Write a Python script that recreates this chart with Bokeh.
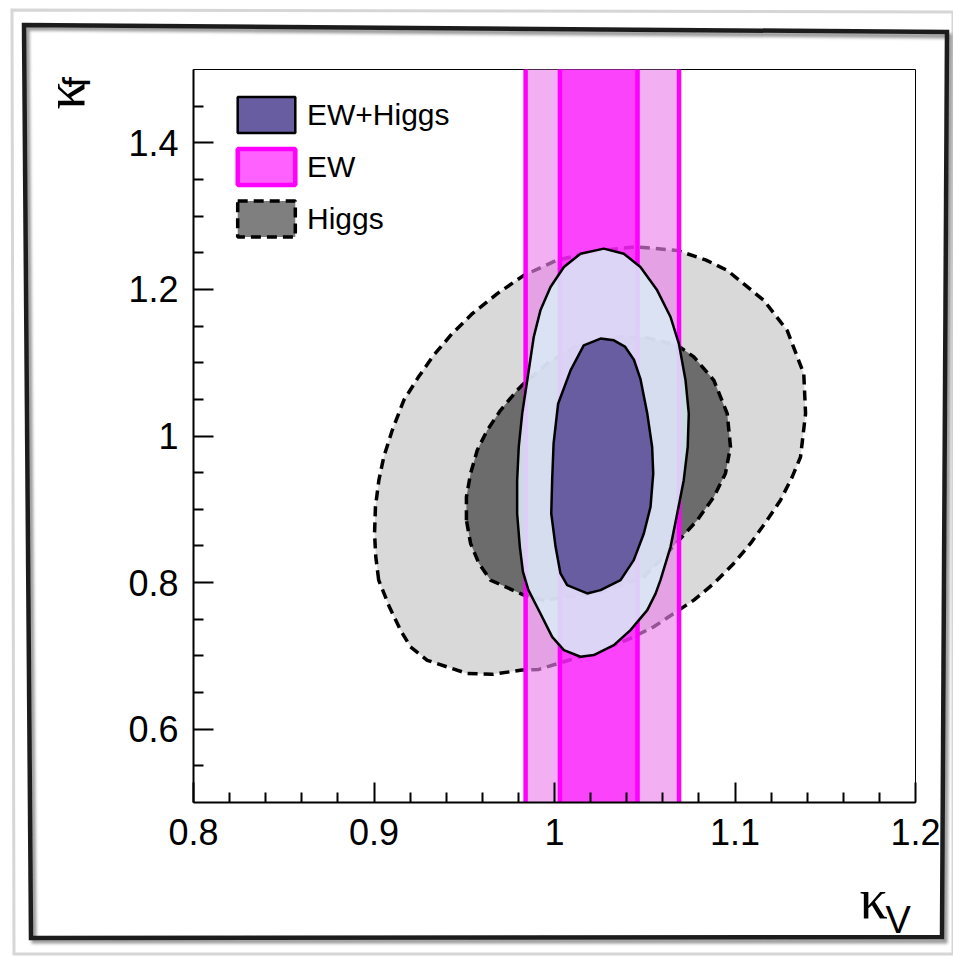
from urllib.parse import quote

from bokeh.plotting import figure
from bokeh.models import Range1d, FixedTicker, Legend, LegendItem, Label
from bokeh.embed import file_html
from bokeh.resources import INLINE

# ---- confidence regions in the (kappa_V, kappa_f) plane ----
# Higgs couplings fit, 95% CL contour
higgs95_kv = [0.9026, 0.9010, 0.9003, 0.9008, 0.9027, 0.9054, 0.9101, 0.9165, 0.9245, 0.9330,
              0.9430, 0.9545, 0.9683, 0.9830, 1.0015, 1.0255, 1.0450, 1.0680, 1.0840, 1.0957,
              1.1160, 1.1289, 1.1381, 1.1391, 1.1363, 1.1317, 1.1252, 1.1178, 1.1086, 1.0993,
              1.0883, 1.0772, 1.0661, 1.0550, 1.0421, 1.0250, 1.0052, 0.9913, 0.9821, 0.9655,
              0.9516, 0.9295, 0.9202, 0.9147, 0.9085]
higgs95_kf = [0.8034, 0.8351, 0.8670, 0.9033, 0.9397, 0.9714, 1.0078, 1.0487, 1.0800, 1.1100,
              1.1390, 1.1670, 1.1942, 1.2192, 1.2400, 1.2532, 1.2580, 1.2532, 1.2400, 1.2260,
              1.1850, 1.1440, 1.0850, 1.0306, 0.9714, 0.9442, 0.9124, 0.8852, 0.8534, 0.8261,
              0.7988, 0.7761, 0.7579, 0.7397, 0.7239, 0.7070, 0.6920, 0.6816, 0.6807, 0.6748,
              0.6760, 0.6940, 0.7124, 0.7350, 0.7670]
# Higgs couplings fit, 68% CL contour
higgs68_kv = [0.9512, 0.9512, 0.9535, 0.9572, 0.9627, 0.9701, 0.9793, 0.9830, 0.9960, 1.0126,
              1.0310, 1.0495, 1.0680, 1.0772, 1.0883, 1.0957, 1.0975, 1.0947, 1.0883, 1.0791,
              1.0707, 1.0587, 1.0495, 1.0360, 1.0218, 0.9940, 0.9830, 0.9645, 0.9581, 0.9535]
higgs68_kf = [0.8852, 0.9169, 0.9488, 0.9806, 1.0078, 1.0351, 1.0624, 1.0715, 1.0988, 1.1237,
              1.1350, 1.1350, 1.1240, 1.1080, 1.0760, 1.0306, 0.9850, 0.9488, 0.9169, 0.8852,
              0.8624, 0.8306, 0.8080, 0.7950, 0.7850, 0.7760, 0.7830, 0.8034, 0.8261, 0.8534]
# electroweak precision data: kappa_V intervals (independent of kappa_f)
ew95 = (0.984, 1.069)
ew68 = (1.003, 1.046)
# combined EW + Higgs fit, 95% CL contour
comb95_kv = [1.0273, 1.0384, 1.0476, 1.0569, 1.0643, 1.0689, 1.0726, 1.0744, 1.0738, 1.0716,
             1.0680, 1.0643, 1.0587, 1.0560, 1.0514, 1.0421, 1.0329, 1.0218, 1.0144, 1.0052,
             0.9987, 0.9922, 0.9855, 0.9825, 0.9808, 0.9793, 0.9793, 0.9802, 0.9821, 0.9849,
             0.9885, 0.9922, 0.9978, 1.0052, 1.0144]
comb95_kf = [1.2556, 1.2487, 1.2305, 1.1987, 1.1623, 1.1260, 1.0760, 1.0306, 0.9850, 0.9397,
             0.8943, 0.8488, 0.8034, 0.7850, 0.7624, 0.7352, 0.7147, 0.7011, 0.6988, 0.7079,
             0.7260, 0.7579, 0.7900, 0.8150, 0.8488, 0.8943, 0.9397, 0.9850, 1.0306, 1.0760,
             1.1350, 1.1714, 1.2032, 1.2305, 1.2487]
# combined EW + Higgs fit, 68% CL contour
comb68_kv = [1.0255, 1.0329, 1.0390, 1.0440, 1.0476, 1.0514, 1.0541, 1.0547, 1.0532, 1.0495,
             1.0439, 1.0366, 1.0255, 1.0181, 1.0070, 1.0033, 1.0006, 0.9982, 0.9987, 0.9995,
             1.0020, 1.0089, 1.0162]
comb68_kf = [1.1329, 1.1305, 1.1220, 1.1040, 1.0780, 1.0306, 0.9850, 0.9488, 0.9033, 0.8670,
             0.8306, 0.8034, 0.7897, 0.7852, 0.7965, 0.8125, 0.8488, 0.8943, 0.9397, 0.9900,
             1.0440, 1.0896, 1.1237]

# axes
kv_range = (0.8, 1.2)
kf_range = (0.5, 1.5)
x_ticks = [0.8, 0.9, 1.0, 1.1, 1.2]
x_tick_labels = ["0.8", "0.9", "1", "1.1", "1.2"]
x_minor = [0.82, 0.84, 0.86, 0.88, 0.92, 0.94, 0.96, 0.98, 1.02, 1.04, 1.06, 1.08,
           1.12, 1.14, 1.16, 1.18]
y_ticks = [0.6, 0.8, 1.0, 1.2, 1.4]
y_tick_labels = ["0.6", "0.8", "1", "1.2", "1.4"]
y_minor = [0.55, 0.65, 0.7, 0.75, 0.85, 0.9, 0.95, 1.05, 1.1, 1.15, 1.25, 1.3, 1.35, 1.45]

# ---- canvas layout (pixels) ----
W, H = 953, 957
FL, FR, FT, FB = 193, 915, 69, 802

# hand-framed page border, painted behind the (transparent) canvas border area
page_frame_svg = (
    "<svg xmlns='http://www.w3.org/2000/svg' width='953' height='957'>"
    "<defs><filter id='s'><feGaussianBlur stdDeviation='1.6'/></filter>"
    "<filter id='b'><feGaussianBlur stdDeviation='0.6'/></filter></defs>"
    "<polygon points='12,10 953,12 953,954 14,954' fill='none' stroke='#d6d6d6' "
    "stroke-width='3' filter='url(#b)'/>"
    "<polygon points='27,28 950,36 945,941 34,941' fill='none' stroke='#9a9a9a' "
    "stroke-width='5' filter='url(#s)'/>"
    "<polygon points='24,25 947,32 942,937 31,938' fill='none' stroke='#1e1e1e' "
    "stroke-width='4.5' filter='url(#b)'/>"
    "</svg>"
)
page_styles = {
    "background-color": "white",
    "background-image": 'url("data:image/svg+xml,' + quote(page_frame_svg) + '")',
    "background-repeat": "no-repeat",
    "background-size": f"{W}px {H}px",
}

p = figure(width=W, height=H, output_backend="svg", toolbar_location=None,
           x_range=Range1d(*kv_range), y_range=Range1d(*kf_range),
           min_border_left=FL, min_border_right=W - FR,
           min_border_top=FT, min_border_bottom=H - FB, styles=page_styles)
p.background_fill_color = "white"
p.border_fill_color = None
p.outline_line_color = "black"
p.outline_line_width = 1
p.grid.visible = False


def kv_at(px):
    return kv_range[0] + (px - FL) * (kv_range[1] - kv_range[0]) / (FR - FL)


def kf_at(py):
    return kf_range[1] - (py - FT) * (kf_range[1] - kf_range[0]) / (FB - FT)


# Higgs-only regions (dashed outlines)
h95 = p.patch(higgs95_kv, higgs95_kf, fill_color="#d9d9d9", line_color="black",
              line_width=3.5, line_dash="10 6")
h68 = p.patch(higgs68_kv, higgs68_kf, fill_color="black", fill_alpha=0.5,
              line_color="black", line_width=3.5, line_dash="10 6")

# EW bands spanning the full kappa_f range
pad = kf_range[1] - kf_range[0]
b95 = p.quad(left=[ew95[0]], right=[ew95[1]], bottom=[kf_range[0] - pad], top=[kf_range[1] + pad],
             fill_color="#eb84eb", fill_alpha=0.64, line_color="#ff00ff", line_width=4.5)
b68 = p.quad(left=[ew68[0]], right=[ew68[1]], bottom=[kf_range[0] - pad], top=[kf_range[1] + pad],
             fill_color="#ff00ff", fill_alpha=0.62, line_color="#ff00ff", line_width=4.5)

# combined fit
c95 = p.patch(comb95_kv, comb95_kf, fill_color="#d9ecf6", fill_alpha=0.87,
              line_color="black", line_width=2.5)
c68 = p.patch(comb68_kv, comb68_kf, fill_color="#675da0", line_color="black", line_width=2.5)

# axes styling (ROOT-like inward ticks)
p.xaxis.ticker = FixedTicker(ticks=x_ticks, minor_ticks=x_minor)
p.yaxis.ticker = FixedTicker(ticks=y_ticks, minor_ticks=y_minor)
p.xaxis.major_label_overrides = {t: s for t, s in zip(x_ticks, x_tick_labels)}
p.yaxis.major_label_overrides = {t: s for t, s in zip(y_ticks, y_tick_labels)}
for ax in (p.xaxis[0], p.yaxis[0]):
    ax.axis_line_width = 2
    ax.major_tick_line_width = 2
    ax.minor_tick_line_width = 2
    ax.major_tick_in = 20
    ax.major_tick_out = 0
    ax.minor_tick_in = 10
    ax.minor_tick_out = 0
    ax.major_label_text_font = "Liberation Sans"
    ax.major_label_text_font_size = "36px"
    ax.major_label_text_color = "black"
    ax.axis_line_color = "black"
    ax.major_tick_line_color = "black"
    ax.minor_tick_line_color = "black"
p.xaxis.major_label_standoff = 16
p.yaxis.major_label_standoff = 15

# legend (area glyphs are drawn inset by 10% of the glyph box)
legend = Legend(items=[LegendItem(label="EW+Higgs", renderers=[c68]),
                       LegendItem(label="EW", renderers=[b68]),
                       LegendItem(label="Higgs", renderers=[h68])],
                location=(37, FB - 92 - 149),
                glyph_width=72, glyph_height=45, spacing=7, padding=0, margin=0,
                label_standoff=5, label_text_font="Liberation Sans",
                label_text_font_size="30px", label_text_color="black", label_height=45,
                border_line_color=None, background_fill_alpha=0)
p.add_layout(legend)

# axis titles: kappa with sub-labels (placed in the side panels so they are not clipped)
title_parts = [
    ("below", "κ", "Liberation Serif", "56px", 859, 898, 0),
    ("below", "V", "Liberation Sans", "38px", 885, 919, 0),
    ("left", "κ", "Liberation Serif", "56px", 64, 109, 1.5708),
    ("left", "f", "Liberation Sans", "38px", 76, 87, 1.5708),
]
for side, txt, font, size, px, py, ang in title_parts:
    p.add_layout(Label(x=kv_at(px), y=kf_at(py), text=txt, text_font=font,
                       text_font_size=size, text_color="black", text_align="left",
                       text_baseline="alphabetic", angle=ang), side)

open("out.html", "w").write(file_html(p, INLINE))
